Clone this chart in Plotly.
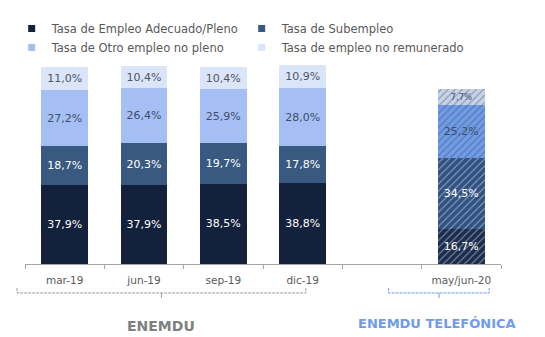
import plotly.graph_objects as go

categories = ["mar-19", "jun-19", "sep-19", "dic-19", " ", "may/jun-20"]
bar_cats = ["mar-19", "jun-19", "sep-19", "dic-19", "may/jun-20"]
adecuado = [37.9, 37.9, 38.5, 38.8, 16.7]
subempleo = [18.7, 20.3, 19.7, 17.8, 34.5]
otro_no_pleno = [27.2, 26.4, 25.9, 28.0, 25.2]
no_remunerado = [11.0, 10.4, 10.4, 10.9, 7.7]
series_names = ["Tasa de Empleo Adecuado/Pleno", "Tasa de Subempleo",
                "Tasa de Otro empleo no pleno", "Tasa de empleo no remunerado"]

base_colors = ["#14213D", "#395A80", "#A5BFF5", "#DAE5FA"]
tele_colors = ["#1B2C4E", "#2F5282", "#6E9BEA", "#C5D3EA"]
stripe_colors = ["#2A4170", "#44679A", "#8CAEF0", "#E2EAF6"]
text_colors = ["#FFFFFF", "#FFFFFF", "#3F4E66", "#4D5666"]

def fmt(v):
    return f"{v:.1f}".replace(".", ",") + "%"

fig = go.Figure()
FONT = "DejaVu Sans"
for i, (name, vals) in enumerate(zip(series_names, [adecuado, subempleo, otro_no_pleno, no_remunerado])):
    n = len(vals)
    colors = [base_colors[i]] * (n - 1) + [tele_colors[i]]
    shapes = [""] * (n - 1) + ["/"]
    fig.add_trace(go.Bar(
        x=bar_cats, y=vals, name=name, showlegend=False,
        text=[fmt(v) for v in vals], textposition="inside", insidetextanchor="middle",
        textangle=0,
        textfont=dict(family=FONT, size=11, color=text_colors[i]),
        marker=dict(color=colors, line=dict(width=0),
                    pattern=dict(shape=shapes, fgcolor=stripe_colors[i], bgcolor=colors,
                                 size=5, solidity=0.2, fillmode="overlay")),
        width=0.59,
    ))
for i, name in enumerate(series_names):
    fig.add_trace(go.Scatter(
        x=[None], y=[None], mode="markers", name=name,
        marker=dict(symbol="square", size=7, color=base_colors[i]),
    ))

# brackets (paper coordinates)
def bracket(x0, x1, xc, color):
    fig.add_shape(type="path", xref="paper", yref="paper",
                  path=f"M {x0},-0.118 L {x0},-0.142 L {x1},-0.142 L {x1},-0.118",
                  line=dict(color=color, width=1, dash="3px,1px"))
    fig.add_shape(type="line", xref="paper", yref="paper",
                  x0=xc, x1=xc, y0=-0.142, y1=-0.167,
                  line=dict(color=color, width=1))

bracket(-0.0167, 0.59, 0.2866, "#9A9A9A")
bracket(0.7636, 0.975, 0.870, "#6E9BEA")

fig.add_annotation(x=0.2866, xref="paper", y=-0.305, yref="paper",
                   xanchor="center", yanchor="middle",
                   text="<b>ENEMDU</b>",
                   showarrow=False, font=dict(family=FONT, size=14, color="#808080"))
fig.add_annotation(x=0.866, xref="paper", y=-0.29, yref="paper",
                   xanchor="center", yanchor="middle",
                   text="<b>ENEMDU TELEFÓNICA</b>",
                   showarrow=False, font=dict(family=FONT, size=13, color="#6E9BEA"))

fig.update_layout(
    width=545, height=337,
    margin=dict(l=23, r=44, t=60, b=73),
    barmode="stack", bargap=0.41,
    plot_bgcolor="white", paper_bgcolor="white",
    font=dict(family=FONT, color="#595959"),
    legend=dict(orientation="h", x=-0.028, xanchor="left", y=1.225, yanchor="top",
                entrywidth=185, entrywidthmode="pixels", traceorder="normal",
                font=dict(family=FONT, size=11.5, color="#595959"),
                bgcolor="rgba(0,0,0,0)", itemwidth=30, tracegroupgap=0),
    xaxis=dict(type="category", categoryorder="array", categoryarray=categories,
               range=[-0.5, 5.5], tickson="boundaries", ticks="outside", ticklen=4,
               tickcolor="#A6A6A6", showline=True, linecolor="#A6A6A6", linewidth=1,
               ticklabelstandoff=6,
               showgrid=False, tickfont=dict(family=FONT, size=10.5, color="#595959")),
    yaxis=dict(range=[0, 98.1], visible=False, showgrid=False, zeroline=False),
)

fig.write_html("out.html")
